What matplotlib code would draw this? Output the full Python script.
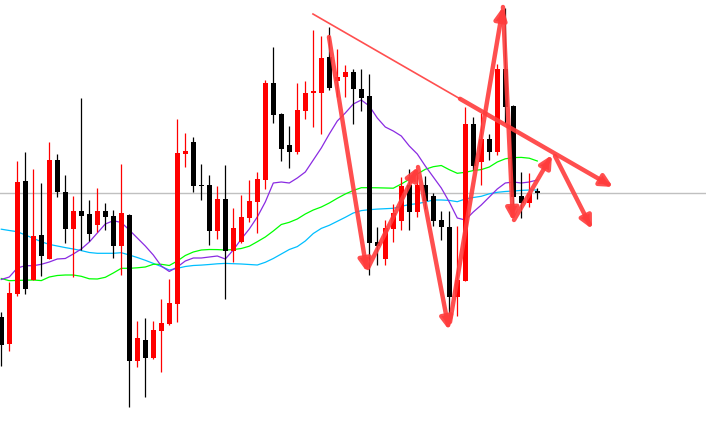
import numpy as np
import matplotlib
matplotlib.use("Agg")
import matplotlib.pyplot as plt
from matplotlib.patches import FancyArrowPatch

# 캔들 OHLC (차트에서 눈으로 읽은 값, 가격 단위는 임의)
opens = [131.3, 104, 154, 267.3, 168, 213, 189, 288, 256.3, 219,
         237, 234, 223, 237, 232, 202.3, 233, 87, 108, 89.7,
         117.3, 124, 144, 294.3, 306, 263, 263, 217.3, 249, 197.3,
         206.3, 230.3, 246.3, 268, 365, 334, 303, 296, 337.3, 355.3,
         355.3, 391, 367.3, 370.7, 376.3, 358.7, 352, 205.7, 188.7, 219.3,
         227.3, 263, 236.3, 263, 252, 228, 220.7, 151.3, 167.3, 324,
         286.3, 308.7, 295.7, 379, 342, 252, 245.3, 256]
highs = [136.3, 166, 287, 296, 279, 265, 306, 294, 273, 252,
         350, 248, 260, 245.3, 238, 284, 234, 127.3, 130, 127.3,
         149, 169, 329, 315, 311.3, 284, 273, 262.3, 283, 240.3,
         253, 268, 275.7, 368, 401.3, 335.3, 322, 365.3, 367, 418,
         412, 421.3, 398.7, 383, 379, 378.7, 374, 221.3, 228, 244,
         271.3, 278.7, 274, 272.3, 254.7, 237.3, 237.3, 222, 341.3, 330.7,
         334.7, 314, 384, 440, 343, 275.7, 274.7, 260.3]
lows = [82.3, 97.3, 152, 154, 168, 172.3, 189, 251.3, 205.3, 171.3,
        198, 207.3, 216, 218, 190.3, 173, 41.3, 81.3, 51.3, 89,
        76.3, 123, 126.3, 281.3, 256.3, 248, 203, 209, 148.7, 186.3,
        205.3, 226.3, 214.7, 258.7, 324.7, 287.3, 280.3, 293.7, 328.7, 320.7,
        313.7, 358, 351.3, 351.3, 324, 337, 173, 183, 183, 206.3,
        218, 218, 231.3, 239, 222.3, 208, 130, 132, 167.3, 278,
        263, 288, 293, 325, 238, 230.3, 241.3, 249]
closes = [103, 155.3, 266.3, 158.7, 212.3, 192.3, 288, 256.3, 219, 237,
          232.3, 214, 237, 231.3, 202.3, 235, 87, 110, 90.3, 118,
          125, 145.3, 295.3, 297, 262.3, 262.3, 217.3, 249, 197.3, 220,
          231.3, 247, 269, 365, 333.3, 299.3, 296.3, 338, 355, 356.7,
          390, 359.7, 370.7, 376, 358.7, 350.3, 205.3, 202.3, 219.7, 234.7,
          262, 236.3, 263, 247.3, 227.3, 221.3, 151.3, 168, 324, 282.3,
          308.7, 295.7, 379, 341.3, 251.3, 245.3, 255.3, 255.5]

# 이동평균선 (차트에서 캔들마다 읽은 값)
ma_fast = [168.5, 171, 180, 182.3, 182.3, 183.7, 186, 189, 189.5, 194,
           199, 206, 215, 224, 227.3, 225.5, 218, 210, 202, 193,
           182, 176.5, 181, 187, 190, 190, 191, 192, 189, 198,
           209, 219, 231, 246, 265, 266, 265, 270, 276, 288,
           300, 314, 327, 335, 344, 348, 342, 330, 321, 317,
           312, 302, 294, 282, 271, 260, 246, 230, 228, 236,
           243, 251, 259, 265, 266, 265, 266, 268]
ma_mid = [169.5, 167.3, 167.6, 167.8, 168, 167.4, 171, 172.5, 173, 173,
          171.7, 169.2, 169, 170.7, 175, 179.7, 179.7, 180.2, 181, 183.7,
          183.7, 182.5, 187, 192.5, 196, 198, 198.5, 198.4, 198, 198.4,
          199.5, 201.8, 206.3, 211, 217, 223.5, 225.7, 229, 234, 238,
          241, 245, 249.7, 254, 257.5, 260.3, 260.3, 260.2, 260, 259.8,
          264, 268.7, 274, 278.7, 281.3, 282.5, 278.3, 274.7, 275.7, 277.4,
          278.4, 281, 286, 289.2, 290.4, 290.6, 289.8, 287]
ma_slow = [218.8, 217.5, 216.3, 213, 209.7, 206.3, 203.6, 202, 200.4, 199,
           197.4, 195.5, 194.7, 194.7, 194.7, 195.3, 193, 190.5, 187.7, 184.6,
           181.5, 178, 179.7, 181.5, 182.5, 182.9, 183.5, 184.2, 184.6, 184.3,
           184, 183.5, 183, 185.7, 189.5, 194, 198.5, 201.4, 207, 214.5,
           219.6, 222.7, 226.7, 230.7, 235, 237.4, 238.3, 238.9, 239.3, 239.7,
           241.6, 243.5, 244.3, 246, 248, 248, 247.6, 246.3, 249, 250.5,
           251.7, 254.2, 255.7, 256.5, 257, 257.6, 258, 258]

# 손으로 그린 화살표: (시작 인덱스, 시작 가격, 끝 인덱스, 끝 가격)
arrow_starts_x = [40.96, 45.84, 52.09, 56.09, 62.71, 64.09, 69.21, 57.34]
arrow_starts_y = [411, 180, 281, 126, 441, 228, 292, 349.2]
arrow_ends_x = [45.71, 52.09, 55.96, 62.71, 63.96, 68.84, 73.84, 76.46]
arrow_ends_y = [176, 281, 118, 441, 227, 293, 219, 261]

# 추세선 (얇은 부분)
trend_x = [38.96, 57.34]
trend_y = [434, 349.2]

UP_COLOR = '#ff0000'
DOWN_COLOR = '#000000'
ARROW_COLOR = '#ff3c3c'


def main():
    o = np.array(opens)
    h = np.array(highs)
    l = np.array(lows)
    c = np.array(closes)
    idx = np.arange(len(o))
    up = c >= o
    colors = np.where(up, UP_COLOR, DOWN_COLOR)

    fig = plt.figure(figsize=(7.06, 4.48), dpi=100)
    ax = fig.add_axes([0, 0, 1, 1])
    ax.set_xlim(-0.1625, 88.09)
    ax.set_ylim(0, 448)
    ax.axis('off')

    # 현재가 라인
    ax.axhline(c[-1], color='#c0c0c0', lw=1.0, zorder=1)

    # 이동평균선
    ax.plot(idx, ma_slow, color='#00bfff', lw=0.9, zorder=2)
    ax.plot(idx, ma_mid, color='#00ff00', lw=0.9, zorder=2)
    ax.plot(idx, ma_fast, color='#8a2be2', lw=0.9, zorder=2)

    # 캔들: 심지 + 몸통
    ax.vlines(idx, l, h, colors=colors, lw=0.9, zorder=3)
    body_low = np.minimum(o, c)
    body_h = np.maximum(np.abs(c - o), 1.2)
    ax.bar(idx, body_h, bottom=body_low, width=0.62, color=colors,
           linewidth=0, zorder=4)

    # 추세선 (얇은 부분)
    ax.plot(trend_x, trend_y, color=ARROW_COLOR, lw=1.2, alpha=0.9, zorder=5)

    # 화살표
    for x0, y0, x1, y1 in zip(arrow_starts_x, arrow_starts_y,
                              arrow_ends_x, arrow_ends_y):
        arr = FancyArrowPatch((x0, y0), (x1, y1), arrowstyle='-|>',
                              mutation_scale=18, lw=3.2, color=ARROW_COLOR,
                              alpha=0.9, shrinkA=0, shrinkB=0, zorder=6)
        ax.add_patch(arr)

    fig.savefig('out.png', dpi=100, facecolor='white')


if __name__ == "__main__":
    main()
